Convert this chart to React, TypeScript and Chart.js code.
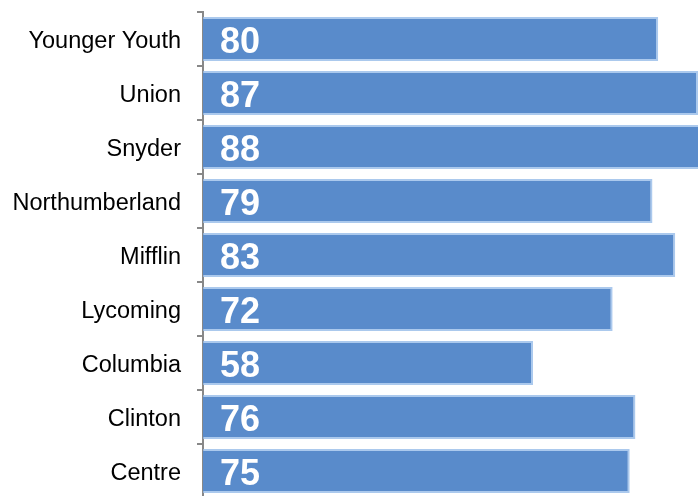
import React, { useEffect, useRef } from "react";
import { Chart, registerables } from "chart.js";

Chart.register(...registerables);

const categories = [
  "Younger Youth",
  "Union",
  "Snyder",
  "Northumberland",
  "Mifflin",
  "Lycoming",
  "Columbia",
  "Clinton",
  "Centre",
];
const values = [80, 87, 88, 79, 83, 72, 58, 76, 75];

const valueLabels = {
  id: "valueLabels",
  afterDatasetsDraw(chart: any) {
    const ctx = chart.ctx;
    const meta = chart.getDatasetMeta(0);
    ctx.save();
    ctx.font = "bold 36px 'Liberation Sans', Arial, sans-serif";
    ctx.fillStyle = "#ffffff";
    ctx.textAlign = "left";
    ctx.textBaseline = "alphabetic";
    meta.data.forEach((el: any, i: number) => {
      const v = chart.data.datasets[0].data[i];
      ctx.fillText(String(v), el.base + 17, el.y + 14);
    });
    ctx.restore();
  },
};

export default function App() {
  const ref = useRef<HTMLCanvasElement | null>(null);
  useEffect(() => {
    document.body.style.margin = "0";
    document.body.style.overflow = "hidden";
    const chart = new Chart(ref.current as HTMLCanvasElement, {
      type: "bar",
      data: {
        labels: categories,
        datasets: [
          {
            data: values,
            backgroundColor: "#598BCB",
            borderColor: "rgba(150,188,232,0.8)",
            borderWidth: 2,
            barPercentage: 0.815,
            categoryPercentage: 1,
          },
        ],
      },
      options: {
        indexAxis: "y",
        animation: false,
        responsive: false,
        layout: { padding: { top: 12, bottom: 2, left: 0, right: 0 } },
        plugins: { legend: { display: false }, tooltip: { enabled: false } },
        scales: {
          x: { display: false, min: 0, max: 87 },
          y: {
            afterFit(scale: any) {
              scale.width = 203;
              scale.paddingTop = 0;
              scale.paddingBottom = 0;
            },
            grid: {
              drawOnChartArea: false,
              drawTicks: true,
              tickLength: 6,
              color: "#888888",
              lineWidth: 2,
            },
            border: { display: true, color: "#888888", width: 2 },
            ticks: {
              color: "#000000",
              padding: 16,
              labelOffset: 3,
              font: { family: "'Liberation Sans', Arial, sans-serif", size: 23.5 },
            },
          },
        },
      },
      plugins: [valueLabels],
    });
    return () => chart.destroy();
  }, []);
  return (
    <div style={{ width: 698, height: 500 }}>
      <canvas ref={ref} width={698} height={500} />
    </div>
  );
}
